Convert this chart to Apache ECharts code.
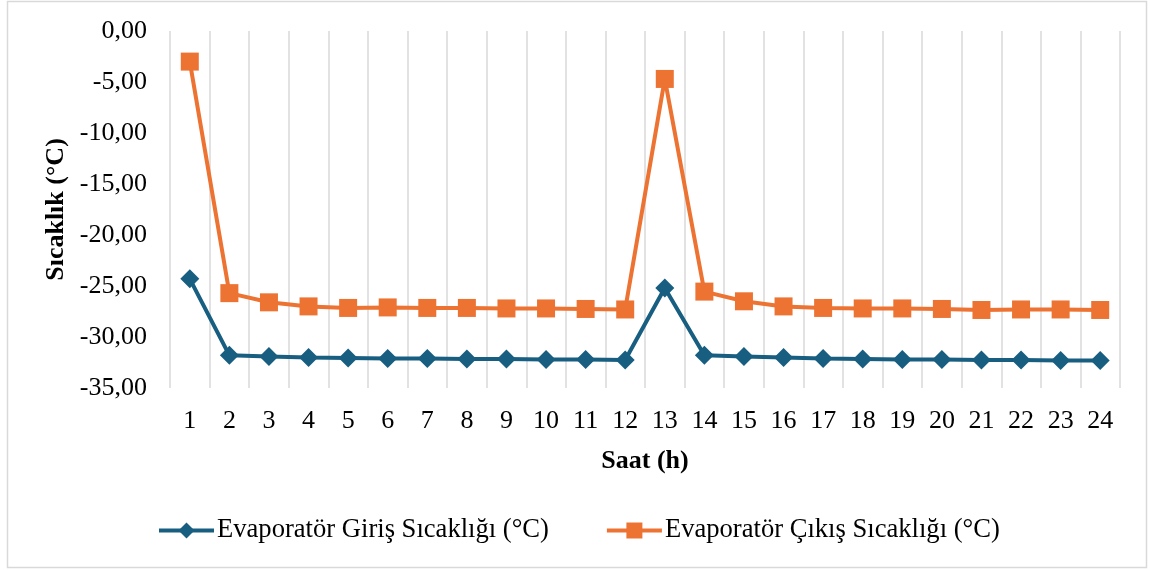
<!DOCTYPE html>
<html><head><meta charset="utf-8">
<script src="https://cdn.jsdelivr.net/npm/echarts@6/dist/echarts.min.js"></script>
<style>html,body{margin:0;padding:0;background:#fff}#c{width:1150px;height:570px}</style>
</head><body><div id="c"></div>
<script>
const hours = ['1','2','3','4','5','6','7','8','9','10','11','12','13','14','15','16','17','18','19','20','21','22','23','24'];
const girisName = 'Evaporatör Giriş Sıcaklığı (°C)';
const cikisName = 'Evaporatör Çıkış Sıcaklığı (°C)';
const giris = [-24.3,-31.8,-31.9,-32.0,-32.05,-32.1,-32.1,-32.15,-32.15,-32.2,-32.2,-32.25,-25.2,-31.8,-31.9,-32.0,-32.1,-32.15,-32.2,-32.2,-32.25,-32.25,-32.3,-32.3];
const cikis = [-3.0,-25.7,-26.6,-27.0,-27.15,-27.1,-27.15,-27.15,-27.2,-27.2,-27.25,-27.3,-4.7,-25.55,-26.5,-27.0,-27.15,-27.2,-27.2,-27.25,-27.35,-27.3,-27.3,-27.35];
const yMin = -35, yMax = 0, yStep = 5;

const FONT = '"Liberation Serif", "Times New Roman", serif';
const FS = 26;
const chart = echarts.init(document.getElementById('c'));
chart.setOption({
  animation: false,
  backgroundColor: '#fff',
  graphic: [{type:'rect', shape:{x:7.5,y:1.5,width:1139,height:566}, style:{fill:'none', stroke:'#d9d9d9', lineWidth:1.5}, silent:true}],
  grid: {left:170, right:30, top:31, bottom:182},
  legend: {
    top: 512, left: 152, itemGap: 56, itemWidth: 55, itemHeight: 20,
    lineStyle: {width: 4},
    textStyle: {fontFamily: FONT, fontSize: 26.6, color: '#000', padding: [0,0,0,-2]},
    data: [girisName, cikisName]
  },
  xAxis: {
    type: 'category', data: hours, boundaryGap: true,
    name: 'Saat (h)', nameLocation: 'middle', nameGap: 60,
    nameTextStyle: {fontFamily: FONT, fontSize: FS, fontWeight: 'bold', color: '#000'},
    axisLine: {show:false}, axisTick: {show:false},
    axisLabel: {fontFamily: FONT, fontSize: FS, color: '#000', margin: 20, interval: 0},
    splitLine: {show:true, lineStyle:{color:'#d9d9d9', width:1.5}}
  },
  yAxis: {
    type: 'value', min: yMin, max: yMax, interval: yStep,
    name: 'Sıcaklık (°C)', nameLocation: 'middle', nameGap: 98,
    nameTextStyle: {fontFamily: FONT, fontSize: FS, fontWeight: 'bold', color: '#000'},
    axisLine: {show:false}, axisTick: {show:false}, splitLine: {show:false},
    axisLabel: {fontFamily: FONT, fontSize: FS, color: '#000', margin: 23,
      formatter: v => v.toFixed(2).replace('.', ',')}
  },
  series: [
    {name: girisName, type:'line', data: giris, symbol:'diamond', symbolSize:[19,19],
     itemStyle:{color:'#175E80'}, lineStyle:{color:'#175E80', width:4}},
    {name: cikisName, type:'line', data: cikis, symbol:'rect', symbolSize:18,
     itemStyle:{color:'#ED7333'}, lineStyle:{color:'#ED7333', width:4}}
  ]
});
</script></body></html>
